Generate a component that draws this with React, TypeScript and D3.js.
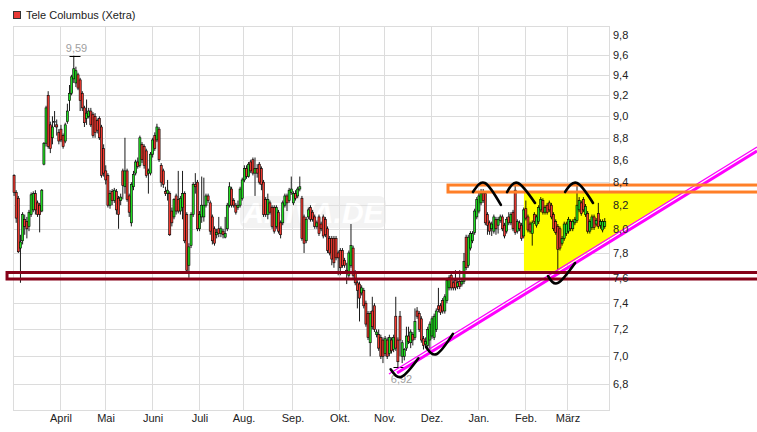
import * as d3 from 'd3';
import { useEffect, useRef } from 'react';

// OHLC per trading day, [open, high, low, close], one array per month
const mar16 = [
  [8.46, 8.47, 8.28, 8.31], [8.31, 8.33, 8.05, 8.09], [8.26, 8.28, 7.8, 7.81], [7.84, 7.95, 7.56, 7.89],
  [7.9, 8.14, 7.87, 8.12], [8.08, 8.12, 7.95, 8.02], [8.06, 8.1, 7.92, 8.0], [8.02, 8.16, 7.98, 8.14],
  [8.12, 8.31, 8.1, 8.29], [8.16, 8.32, 8.14, 8.3], [8.3, 8.33, 8.12, 8.16], [8.22, 8.24, 8.1, 8.12],
  [8.2, 8.22, 7.97, 8.12], [8.15, 8.34, 8.14, 8.33], [8.56, 8.76, 8.55, 8.75], [8.75, 9.1, 8.72, 9.08],
  [9.2, 9.24, 8.7, 8.72], [8.92, 8.95, 8.66, 8.7], [8.8, 9.0, 8.74, 8.9], [8.95, 9.05, 8.9, 8.95],
  [8.92, 8.97, 8.82, 8.9], [8.85, 8.88, 8.74, 8.77],
];
const apr16 = [
  [8.88, 8.92, 8.76, 8.78], [8.82, 8.84, 8.7, 8.72], [8.77, 8.94, 8.75, 8.92], [8.95, 9.12, 8.93, 9.05],
  [9.15, 9.3, 9.05, 9.22], [9.22, 9.4, 9.2, 9.38], [9.36, 9.59, 9.32, 9.46], [9.32, 9.48, 9.28, 9.44],
  [9.4, 9.42, 9.25, 9.27], [9.35, 9.37, 9.05, 9.15], [9.22, 9.24, 9.05, 9.08], [9.08, 9.1, 8.9, 8.94],
  [8.98, 9.16, 8.92, 9.03], [9.0, 9.08, 8.98, 9.05], [9.05, 9.08, 8.9, 8.92], [9.02, 9.04, 8.8, 8.82],
  [9.0, 9.03, 8.8, 8.85], [8.96, 8.98, 8.84, 8.87], [8.98, 9.0, 8.78, 8.8], [8.9, 8.92, 8.44, 8.46],
  [8.7, 8.74, 8.45, 8.48],
];
const may16 = [
  [8.5, 8.55, 8.38, 8.42], [8.46, 8.48, 8.18, 8.2], [8.2, 8.33, 8.17, 8.3], [8.32, 8.34, 8.2, 8.24],
  [8.24, 8.35, 8.22, 8.33], [8.32, 8.34, 8.12, 8.16], [8.26, 8.28, 8.0, 8.12], [8.24, 8.3, 8.2, 8.27],
  [8.5, 8.52, 8.25, 8.37], [8.36, 8.8, 8.3, 8.5], [8.5, 8.52, 8.23, 8.25], [8.28, 8.3, 8.1, 8.14],
  [8.05, 8.4, 8.02, 8.38], [8.36, 8.5, 8.33, 8.47], [8.48, 8.6, 8.46, 8.58], [8.58, 8.62, 8.52, 8.54],
  [8.55, 8.82, 8.53, 8.8], [8.74, 8.76, 8.57, 8.6], [8.72, 8.74, 8.52, 8.55], [8.68, 8.7, 8.44, 8.46],
  [8.48, 8.52, 8.3, 8.5], [8.48, 8.67, 8.46, 8.65],
];
const jun16 = [
  [8.65, 8.8, 8.62, 8.78], [8.82, 8.85, 8.68, 8.7], [8.78, 8.93, 8.76, 8.9], [8.88, 8.9, 8.58, 8.6],
  [8.55, 8.57, 8.36, 8.4], [8.5, 8.52, 8.35, 8.38], [8.32, 8.36, 8.28, 8.3], [8.3, 8.42, 8.24, 8.33],
  [8.3, 8.32, 7.94, 7.95], [8.15, 8.18, 8.02, 8.05], [8.1, 8.26, 8.08, 8.25], [8.28, 8.3, 8.12, 8.15],
  [8.25, 8.5, 8.13, 8.15], [8.15, 8.28, 8.12, 8.26], [8.18, 8.5, 8.08, 8.3], [8.3, 8.32, 7.88, 7.9],
  [8.12, 8.14, 7.64, 7.66], [7.7, 7.88, 7.6, 7.85], [7.86, 8.14, 7.84, 8.12], [8.12, 8.4, 8.1, 8.38],
  [8.38, 8.48, 8.3, 8.36], [8.4, 8.42, 7.98, 8.0],
];
const jul16 = [
  [8.0, 8.15, 7.98, 8.12], [8.1, 8.45, 8.05, 8.2], [8.1, 8.44, 8.06, 8.2], [8.2, 8.3, 8.18, 8.28],
  [8.28, 8.3, 8.22, 8.24], [8.22, 8.24, 7.95, 7.98], [8.1, 8.12, 7.87, 7.9], [8.0, 8.02, 7.86, 7.88],
  [7.95, 8.0, 7.92, 7.97], [8.0, 8.1, 7.93, 7.96], [7.96, 8.02, 7.93, 8.0], [7.98, 8.0, 7.92, 7.95],
  [7.93, 8.1, 7.92, 7.96], [8.0, 8.22, 7.98, 8.2], [8.2, 8.4, 8.18, 8.36], [8.34, 8.36, 8.18, 8.2],
  [8.24, 8.26, 8.18, 8.2], [8.2, 8.22, 8.12, 8.14], [8.18, 8.24, 8.16, 8.2], [8.2, 8.36, 8.18, 8.34],
  [8.26, 8.44, 8.24, 8.42],
];
const aug16 = [
  [8.42, 8.55, 8.4, 8.52], [8.52, 8.55, 8.43, 8.45], [8.45, 8.58, 8.44, 8.56], [8.58, 8.6, 8.48, 8.5],
  [8.6, 8.62, 8.46, 8.48], [8.48, 8.62, 8.28, 8.52], [8.52, 8.56, 8.44, 8.48], [8.56, 8.58, 8.38, 8.4],
  [8.52, 8.54, 8.33, 8.38], [8.4, 8.42, 8.1, 8.12], [8.25, 8.27, 8.1, 8.12], [8.12, 8.3, 8.08, 8.25],
  [8.22, 8.24, 8.12, 8.14], [8.18, 8.2, 8.0, 8.02], [8.18, 8.2, 7.96, 7.98], [8.02, 8.2, 8.0, 8.18],
  [8.14, 8.16, 7.96, 7.98], [8.05, 8.07, 7.92, 7.95], [8.05, 8.24, 8.03, 8.22], [8.2, 8.3, 8.18, 8.28],
  [8.28, 8.3, 8.15, 8.22], [8.24, 8.35, 8.22, 8.33], [8.31, 8.45, 8.29, 8.34],
];
const sep16 = [
  [8.22, 8.32, 8.2, 8.3], [8.3, 8.33, 8.24, 8.26], [8.28, 8.36, 8.26, 8.34], [8.34, 8.45, 8.32, 8.36],
  [8.26, 8.28, 7.9, 7.92], [8.1, 8.12, 7.8, 7.88], [7.9, 8.1, 7.88, 8.08], [8.1, 8.18, 8.08, 8.16],
  [8.18, 8.2, 8.06, 8.08], [8.14, 8.16, 8.06, 8.08], [8.1, 8.12, 8.0, 8.02], [8.02, 8.07, 8.0, 8.05],
  [8.1, 8.12, 7.94, 7.96], [8.04, 8.06, 7.98, 8.0], [8.1, 8.12, 7.92, 7.94], [8.08, 8.1, 7.93, 7.95],
  [8.0, 8.02, 7.8, 7.82], [7.92, 7.94, 7.78, 7.8], [7.92, 7.94, 7.7, 7.75], [7.92, 7.94, 7.68, 7.72],
  [7.92, 7.94, 7.74, 7.76], [7.8, 7.82, 7.62, 7.76],
];
const oct16 = [
  [7.82, 7.84, 7.62, 7.68], [7.82, 7.84, 7.68, 7.7], [7.74, 7.76, 7.68, 7.7], [7.66, 7.72, 7.55, 7.64],
  [7.62, 7.82, 7.6, 7.8], [7.7, 8.04, 7.68, 7.86], [7.84, 7.86, 7.6, 7.62], [7.64, 7.66, 7.54, 7.56],
  [7.56, 7.58, 7.36, 7.5], [7.55, 7.57, 7.26, 7.44], [7.48, 7.54, 7.46, 7.52], [7.5, 7.52, 7.36, 7.38],
  [7.4, 7.42, 7.22, 7.24], [7.32, 7.34, 7.12, 7.14], [7.1, 7.34, 7.0, 7.32], [7.34, 7.45, 7.2, 7.22],
  [7.38, 7.4, 7.18, 7.2], [7.16, 7.2, 7.14, 7.18], [7.16, 7.2, 7.04, 7.06], [7.14, 7.16, 6.98, 7.0],
  [7.12, 7.14, 6.95, 7.0],
];
const nov16 = [
  [7.02, 7.15, 7.0, 7.13], [7.12, 7.14, 6.98, 7.0], [7.02, 7.16, 7.0, 7.14], [7.12, 7.14, 7.02, 7.04],
  [7.05, 7.16, 7.03, 7.14], [7.3, 7.45, 7.04, 7.06], [7.12, 7.14, 6.92, 6.96], [7.3, 7.34, 7.0, 7.12],
  [7.0, 7.12, 6.95, 7.1], [7.0, 7.06, 6.97, 7.05], [7.06, 7.22, 7.04, 7.15], [7.15, 7.22, 7.09, 7.11],
  [7.1, 7.2, 7.06, 7.18], [7.16, 7.18, 7.08, 7.12], [7.14, 7.36, 7.12, 7.26], [7.34, 7.37, 7.28, 7.3],
  [7.32, 7.34, 7.18, 7.2], [7.28, 7.3, 7.1, 7.12], [7.13, 7.15, 7.05, 7.08], [7.09, 7.14, 7.07, 7.11],
  [7.08, 7.22, 7.06, 7.2], [7.12, 7.26, 7.04, 7.24],
];
const dec16 = [
  [7.15, 7.3, 7.13, 7.28], [7.14, 7.32, 7.12, 7.3], [7.2, 7.36, 7.18, 7.34], [7.38, 7.52, 7.33, 7.35],
  [7.38, 7.4, 7.31, 7.33], [7.42, 7.44, 7.32, 7.34], [7.34, 7.47, 7.32, 7.45], [7.42, 7.6, 7.4, 7.58],
  [7.52, 7.62, 7.5, 7.6], [7.62, 7.64, 7.5, 7.52], [7.56, 7.58, 7.5, 7.52], [7.58, 7.66, 7.5, 7.52],
  [7.53, 7.58, 7.51, 7.56], [7.57, 7.66, 7.51, 7.53], [7.55, 7.59, 7.53, 7.57], [7.57, 7.8, 7.55, 7.73],
  [7.93, 7.95, 7.66, 7.68], [7.7, 7.95, 7.68, 7.93], [7.84, 7.98, 7.82, 7.96], [7.9, 7.98, 7.88, 7.96],
  [7.97, 8.17, 7.95, 8.15], [8.1, 8.27, 8.08, 8.25],
];
const jan17 = [
  [8.15, 8.32, 8.13, 8.28], [8.22, 8.34, 8.2, 8.3], [8.3, 8.34, 8.22, 8.24], [8.3, 8.32, 8.03, 8.05],
  [8.12, 8.14, 7.95, 8.03], [8.05, 8.07, 7.95, 7.98], [8.0, 8.06, 7.94, 8.04], [7.98, 8.12, 7.96, 8.1],
  [8.08, 8.1, 7.95, 8.0], [8.03, 8.1, 7.96, 8.08], [8.07, 8.12, 8.05, 8.1], [8.1, 8.12, 7.98, 8.0],
  [8.03, 8.05, 7.92, 7.94], [7.98, 8.1, 7.96, 8.08], [8.1, 8.14, 8.03, 8.05], [8.05, 8.14, 8.03, 8.12],
  [8.14, 8.16, 7.98, 8.0], [8.33, 8.38, 7.95, 7.97], [7.98, 8.08, 7.96, 8.06], [8.05, 8.07, 7.98, 8.0],
  [8.03, 8.05, 7.9, 7.92], [7.94, 8.18, 7.92, 8.16],
];
const feb17 = [
  [8.17, 8.24, 8.07, 8.09], [8.1, 8.12, 7.97, 7.99], [8.04, 8.06, 7.96, 7.98], [7.96, 8.07, 7.86, 8.05],
  [8.12, 8.14, 8.04, 8.06], [8.03, 8.12, 8.01, 8.1], [8.06, 8.2, 8.04, 8.18], [8.16, 8.27, 8.14, 8.25],
  [8.24, 8.26, 8.12, 8.14], [8.14, 8.2, 8.12, 8.18], [8.2, 8.22, 8.12, 8.14], [8.22, 8.24, 8.14, 8.16],
  [8.2, 8.22, 8.08, 8.1], [8.12, 8.14, 7.98, 8.0], [8.06, 8.08, 7.95, 7.97], [8.02, 8.04, 7.66, 7.83],
  [8.0, 8.02, 7.82, 7.84], [7.88, 7.94, 7.86, 7.92], [7.92, 8.06, 7.9, 8.04], [7.96, 8.06, 7.94, 8.04],
];
const mar17 = [
  [7.98, 8.1, 7.96, 8.08], [8.06, 8.08, 7.98, 8.0], [8.0, 8.08, 7.98, 8.06], [8.05, 8.1, 8.03, 8.08],
  [8.07, 8.4, 8.05, 8.2], [8.16, 8.27, 8.14, 8.24], [8.22, 8.24, 8.11, 8.13], [8.25, 8.27, 8.14, 8.16],
  [8.12, 8.21, 8.1, 8.19], [8.13, 8.15, 7.96, 7.98], [7.98, 8.08, 7.96, 8.06], [8.01, 8.12, 7.99, 8.1],
  [8.1, 8.12, 7.99, 8.01], [8.04, 8.09, 8.02, 8.07], [8.13, 8.22, 8.0, 8.02], [8.03, 8.08, 8.0, 8.06],
  [7.99, 8.08, 7.97, 8.06], [8.02, 8.09, 8.0, 8.06],
];

const monthLabels = ['Jan.', 'Feb.', 'März', 'April', 'Mai', 'Juni', 'Juli', 'Aug.', 'Sep.', 'Okt.', 'Nov.', 'Dez.'];
const yTicks = [6.8, 7.0, 7.2, 7.4, 7.6, 7.8, 8.0, 8.2, 8.4, 8.6, 8.8, 9.0, 9.2, 9.4, 9.6, 9.8];

// drawn annotations, in (trading day index, price)
const supportBand = [7.59, 7.642];
const resistanceBand = [8.314, 8.375];
const trendThick = [[179.6, 6.879], [348.4, 8.679]];
const trendThin = [[175.8, 6.872], [348.4, 8.715]];
const triangle = [[239.1, 8.305], [313.2, 8.305], [255.1, 7.655], [239.1, 7.655]];
const strokes = [
  [[176.6, 6.905], [181.8, 6.852], [189.6, 6.985]],
  [[193.2, 7.069], [198.3, 7.017], [205.8, 7.166]],
  [[215.2, 8.314], [220.8, 8.393], [228.3, 8.202]],
  [[231.2, 8.314], [236.3, 8.393], [244.3, 8.219]],
  [[258.4, 8.314], [264.0, 8.393], [271.5, 8.219]],
  [[250.4, 7.614], [255.1, 7.559], [263.1, 7.718]],
];

const W = 757;
const H = 432;
const left = 13;
const right = 609;
const top = 26;
const bottom = 410;
const font = "'Liberation Sans', Arial, sans-serif";

function App() {
  const svgElement = useRef<SVGSVGElement | null>(null);

  useEffect(() => {
    document.body.style.margin = '0';
    const svg = d3.select(svgElement.current);
    svg.selectAll('*').remove();

    const candles = [mar16, apr16, may16, jun16, jul16, aug16, sep16, oct16, nov16, dec16, jan17, feb17, mar17].flat();
    const days = d3.timeDay
      .range(new Date(2016, 2, 2), new Date(2017, 2, 25))
      .filter((d) => d.getDay() !== 0 && d.getDay() !== 6);
    const n = Math.min(days.length, candles.length);

    const x = d3.scaleLinear().domain([-0.5, 279]).range([left, right]);
    const y = d3.scaleLog().domain([6.617, 9.893]).range([bottom, top]);

    svg.append('rect').attr('width', W).attr('height', H).attr('fill', '#fff');

    // grid
    const grid = svg.append('g').attr('stroke', '#dcdcdc').attr('stroke-width', 1).attr('shape-rendering', 'crispEdges');
    yTicks
      .filter((t) => y(t) > top + 12)
      .forEach((t) => {
        const yy = Math.round(y(t)) + 0.5;
        grid.append('line').attr('x1', left).attr('x2', right).attr('y1', yy).attr('y2', yy);
      });
    const monthStarts: number[] = [];
    for (let i = 1; i < n; i++) {
      if (days[i].getMonth() !== days[i - 1].getMonth()) monthStarts.push(i);
    }
    monthStarts.forEach((i) => {
      const xx = Math.round(x(i - 0.5)) + 0.5;
      grid.append('line').attr('x1', xx).attr('x2', xx).attr('y1', top).attr('y2', bottom);
    });
    grid
      .append('rect')
      .attr('x', left + 0.5)
      .attr('y', top + 0.5)
      .attr('width', right - left)
      .attr('height', bottom - top)
      .attr('fill', 'none');

    // watermark
    const wm = svg.append('g').attr('opacity', 0.45);
    wm.append('rect').attr('x', 240).attr('y', 196).attr('width', 146).attr('height', 32).attr('rx', 7).attr('fill', '#e6e6e6');
    wm.append('text')
      .attr('x', 313)
      .attr('y', 223)
      .attr('text-anchor', 'middle')
      .attr('font-family', font)
      .attr('font-size', 30)
      .attr('font-weight', 'bold')
      .attr('font-style', 'italic')
      .attr('fill', '#fff')
      .text('ARIVA.DE');

    // yellow triangle
    svg
      .append('path')
      .attr('d', (d3.line().x((p) => x(p[0])).y((p) => y(p[1])) as any)(triangle) + 'Z')
      .attr('fill', '#ffff00');

    // candles
    const cg = svg.append('g');
    candles.slice(0, n).forEach(([o, h, l, c], i) => {
      const cx = x(i);
      cg.append('line')
        .attr('x1', cx)
        .attr('x2', cx)
        .attr('y1', y(h))
        .attr('y2', y(l))
        .attr('stroke', '#000')
        .attr('stroke-width', 0.9);
      const y0 = y(Math.max(o, c));
      const y1 = y(Math.min(o, c));
      cg.append('rect')
        .attr('x', cx - 1.05)
        .attr('y', y0)
        .attr('width', 2.1)
        .attr('height', Math.max(0.8, y1 - y0))
        .attr('fill', c > o ? '#22dd22' : c < o ? '#f03a30' : '#fff')
        .attr('stroke', '#000')
        .attr('stroke-width', 0.6);
    });

    // high / low markers
    const fmt = (v: number) => d3.format('.2f')(v).replace('.', ',');
    const hiIdx = d3.maxIndex(candles.slice(0, n), (d) => d[1]);
    const loIdx = d3.minIndex(candles.slice(0, n), (d) => d[2]);
    const hx = Math.round(x(hiIdx)) + 0.5;
    const hy = Math.round(y(candles[hiIdx][1])) + 0.5;
    svg.append('line').attr('x1', hx - 5).attr('x2', hx + 6).attr('y1', hy).attr('y2', hy).attr('stroke', '#000');
    svg.append('text').attr('x', hx + 2).attr('y', hy - 5).attr('text-anchor', 'middle')
      .attr('font-family', font).attr('font-size', 11).attr('fill', '#a0a0a0').text(fmt(candles[hiIdx][1]));
    const lx = Math.round(x(loIdx)) + 0.5;
    const ly = Math.round(y(candles[loIdx][2])) + 0.5;
    svg.append('line').attr('x1', lx - 5).attr('x2', lx + 6).attr('y1', ly).attr('y2', ly).attr('stroke', '#000');
    svg.append('text').attr('x', lx + 3).attr('y', ly + 15).attr('text-anchor', 'middle')
      .attr('font-family', font).attr('font-size', 11).attr('fill', '#a0a0a0').text(fmt(candles[loIdx][2]));

    // trend lines
    const seg = (pts: number[][], w: number) =>
      svg.append('line')
        .attr('x1', x(pts[0][0])).attr('y1', y(pts[0][1]))
        .attr('x2', x(pts[1][0])).attr('y2', y(pts[1][1]))
        .attr('stroke', '#ff00ff').attr('stroke-width', w);
    seg(trendThin, 1.2);
    seg(trendThick, 3);

    // horizontal zones
    const band = (b: number[], x0: number, color: string) =>
      svg.append('rect')
        .attr('x', x(x0))
        .attr('y', y(b[1]))
        .attr('width', W + 20 - x(x0))
        .attr('height', y(b[0]) - y(b[1]))
        .attr('fill', 'none')
        .attr('stroke', color)
        .attr('stroke-width', 3);
    band(supportBand, -3.3, '#860018');
    band(resistanceBand, 203.5, '#ff7f27');

    // hand-drawn arcs
    const curve = d3.line<number[]>().x((p) => x(p[0])).y((p) => y(p[1])).curve(d3.curveNatural);
    strokes.forEach((s) =>
      svg.append('path').attr('d', curve(s)).attr('fill', 'none').attr('stroke', '#000')
        .attr('stroke-width', 2.6).attr('stroke-linecap', 'round'),
    );

    // y labels
    const yl = svg.append('g').attr('font-family', font).attr('font-size', 11).attr('fill', '#222');
    yTicks.forEach((t) => {
      yl.append('text').attr('x', right + 4).attr('y', Math.round(y(t)) + 4).text(d3.format('.1f')(t).replace('.', ','));
    });

    // x labels
    const xl = svg.append('g').attr('font-family', font).attr('font-size', 11).attr('fill', '#222').attr('text-anchor', 'middle');
    monthStarts.forEach((i) => {
      xl.append('text').attr('x', Math.round(x(i - 0.5)) + 1).attr('y', 422).text(monthLabels[days[i].getMonth()]);
    });

    // legend
    svg.append('rect').attr('x', 13.5).attr('y', 11.5).attr('width', 7).attr('height', 7)
      .attr('fill', '#e83a36').attr('stroke', '#333');
    svg.append('text').attr('x', 26).attr('y', 19).attr('font-family', font).attr('font-size', 11)
      .attr('fill', '#222').text('Tele Columbus (Xetra)');
  }, []);

  return <svg ref={svgElement} width={W} height={H} style={{ display: 'block' }} />;
}

export default App;
